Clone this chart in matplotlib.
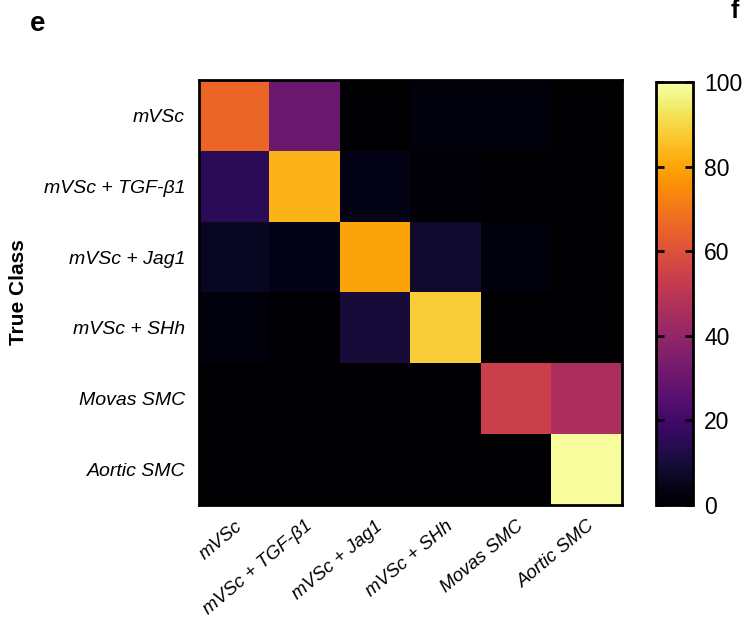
import numpy as np
import matplotlib.pyplot as plt

plt.rcParams['font.family'] = ['Liberation Sans', 'DejaVu Sans']

classes = ['mVSc', 'mVSc + TGF-β1', 'mVSc + Jag1', 'mVSc + SHh', 'Movas SMC', 'Aortic SMC']

# percent of each true class assigned to each predicted class
row_mvsc = [66, 30, 0, 2, 2, 0]
row_tgf = [15, 83, 4, 1, 0, 0]
row_jag = [6, 4, 80, 8, 2, 0]
row_shh = [2, 0, 10, 88, 0, 0]
row_movas = [0, 0, 0, 0, 54, 46]
row_aortic = [0, 0, 0, 0, 0, 99]

cm = np.array([row_mvsc, row_tgf, row_jag, row_shh, row_movas, row_aortic])
cbar_ticks = [0, 20, 40, 60, 80, 100]

fig = plt.figure(figsize=(7.46, 6.35), dpi=100)
ax = fig.add_axes([199 / 746, 1 - 505 / 635, 423 / 746, 425 / 635])
im = ax.imshow(cm, cmap='inferno', vmin=0, vmax=100, aspect='auto', interpolation='nearest')

ax.set_xticks(range(len(classes)))
ax.set_yticks(range(len(classes)))
ax.set_xticklabels(classes, rotation=40, ha='right', rotation_mode='anchor',
                   fontstyle='italic', fontsize=13.5)
ax.set_yticklabels(classes, fontstyle='italic', fontsize=14)
ax.tick_params(axis='x', length=0, pad=9)
ax.tick_params(axis='y', length=0, pad=10)
for s in ax.spines.values():
    s.set_linewidth(2)
ax.set_ylabel('True Class', fontsize=15, fontweight='bold')
ax.yaxis.set_label_coords(-0.405, 0.5)

cax = fig.add_axes([656 / 746, 1 - 505 / 635, 37 / 746, 423 / 635])
cb = fig.colorbar(im, cax=cax, ticks=cbar_ticks)
cb.outline.set_linewidth(2)
cax.yaxis.set_ticks_position('both')
cax.tick_params(axis='y', direction='in', length=6, width=2, labelsize=16.5,
                labelleft=False, labelright=True, pad=8)

fig.text(30 / 746, 1 - 24 / 635, 'e', fontsize=20, fontweight='bold', va='center')
fig.text(731 / 746, 1 - 11 / 635, 'f', fontsize=18, fontweight='bold', va='center')

fig.savefig('out.png', dpi=100)
